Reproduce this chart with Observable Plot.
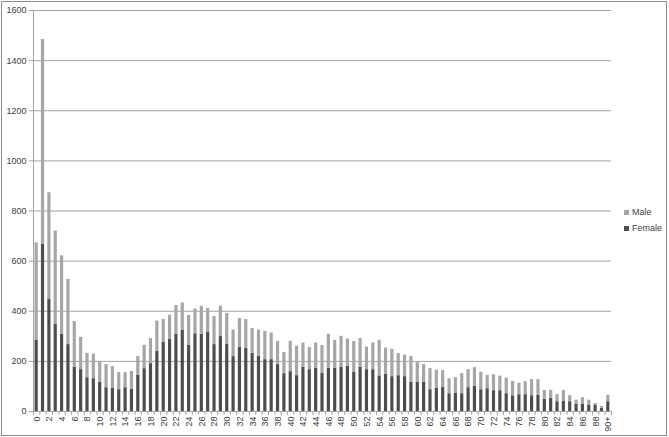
<!DOCTYPE html>
<html><head><meta charset="utf-8">
<script src="https://cdn.jsdelivr.net/npm/d3@7"></script>
<script src="https://cdn.jsdelivr.net/npm/@observablehq/plot@0.6"></script>
<style>
body{margin:0;background:#fff;font-family:"Liberation Sans",Arial,sans-serif}
#wrap{position:relative;width:669px;height:437px;overflow:hidden}
#frame{position:absolute;left:1px;top:1px;width:664px;height:433px;border:1px solid #8c8c8c;pointer-events:none}
#legend{position:absolute;left:624px;top:204px;font-size:9px;color:#404040;line-height:16px}
#legend span.sw{display:inline-block;width:5px;height:5px;margin-right:3px;vertical-align:0px}
</style></head>
<body><div id="wrap"><div id="frame"></div>
<div id="legend"><div><span class="sw" style="background:#a6a6a6"></span>Male</div><div><span class="sw" style="background:#4d4d4d"></span>Female</div></div>
</div>
<script>
const ages = [...Array(90).keys()].map(String).concat(["90+"]);
const female = [285,667,447,349,308,267,176,167,135,131,116,95,92,87,95,89,144,171,191,240,277,288,309,325,264,310,308,315,267,299,269,219,257,252,232,221,207,207,187,151,159,143,177,167,172,153,172,172,176,180,156,176,167,167,142,149,139,143,139,117,116,117,87,92,97,71,73,71,95,100,87,91,83,83,71,63,67,67,63,64,49,52,39,40,39,28,28,24,24,13,39];
const male = [388,817,426,371,313,260,183,129,97,98,83,92,87,68,60,71,75,93,100,121,90,96,114,108,119,99,112,96,112,121,122,106,114,115,99,104,112,106,92,84,122,117,96,88,101,110,136,112,124,109,123,115,90,106,142,104,109,88,86,103,79,70,84,73,66,60,62,80,72,75,70,53,64,58,62,57,46,52,64,63,35,32,28,44,24,17,27,21,8,7,26];
const yTicks = [0,200,400,600,800,1000,1200,1400,1600];
const xLabels = ages.filter((d,i)=>i%2===0);

const data = [];
ages.forEach((a,i)=>{
  data.push({age:a, sex:"Female", v:female[i]});
  data.push({age:a, sex:"Male", v:male[i]});
});
const W=669,H=437,mL=33,mR=58,mT=10,mB=26;
const step=(W-mL-mR)/ages.length;
const chart = Plot.plot({
  width:W, height:H, marginLeft:mL, marginRight:mR, marginTop:mT, marginBottom:mB,
  style:{fontFamily:'"Liberation Sans",Arial,sans-serif', fontSize:"9px", color:"#404040", background:"transparent"},
  x:{domain:ages, paddingInner:0.5, paddingOuter:0.25, label:null},
  y:{domain:[0,1600], label:null},
  color:{domain:["Male","Female"], range:["#a6a6a6","#4d4d4d"]},
  marks:[
    Plot.gridY(yTicks,{stroke:"#a3a3a3", strokeOpacity:1}),
    Plot.axisY(yTicks,{tickSize:4, tickPadding:3, stroke:"#a3a3a3", fill:"#404040", label:null, tickFormat:d=>String(d)}),
    Plot.ruleX(ages,{x:d=>d, dx:step/2, y1:-16, y2:0, stroke:"#a3a3a3"}),
    Plot.ruleX([ages[0]],{x:d=>d, dx:-step/2, y1:-16, y2:1600, stroke:"#a3a3a3"}),
    Plot.axisX(xLabels,{tickSize:0, tickRotate:-90, tickPadding:5, fill:"#404040", label:null}),
    Plot.barY(data,{x:"age", y:"v", fill:"sex"})
  ]
});
document.getElementById("wrap").prepend(chart);
</script>
</body></html>
